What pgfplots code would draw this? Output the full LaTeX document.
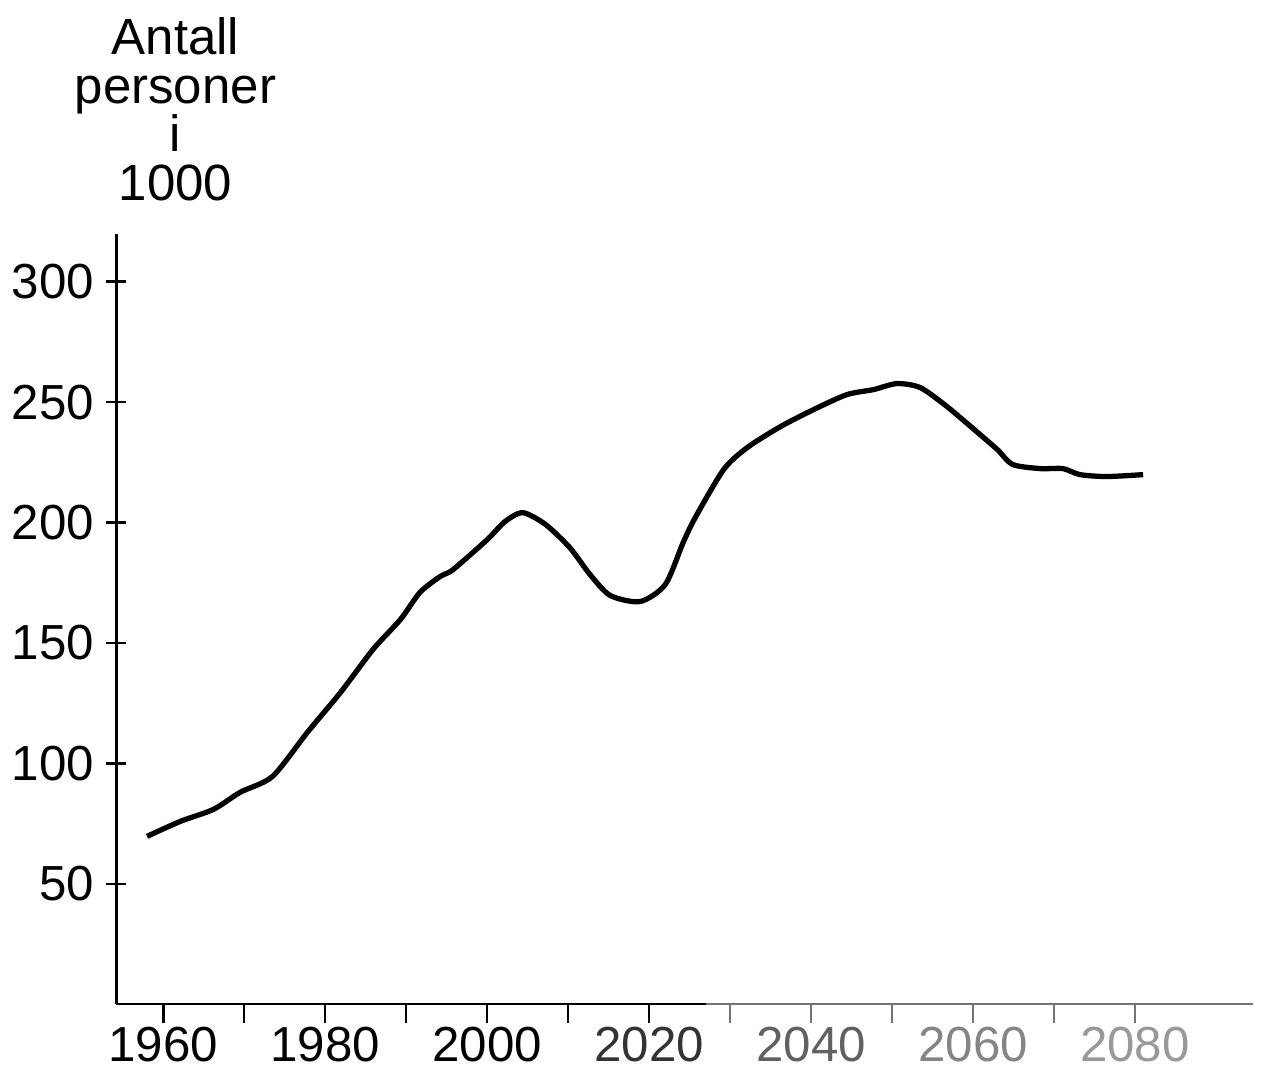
\documentclass[border=0pt]{standalone}
\usepackage{pgfplots}
\pgfplotsset{compat=1.18}
\usepackage{fontspec}
\setmainfont{Liberation Sans}

\begin{document}
\begin{tikzpicture}
\begin{axis}[
    scale only axis,
    width=113.6mm, height=77.0mm,
    xmin=1954.2, xmax=2094.6,
    ymin=0, ymax=320,
    axis x line=bottom, axis y line=left,
    x axis line style={draw=none},
    y axis line style={-, line width=0.7pt},
    clip=false,
    tick align=center,
    major tick length=2mm,
    every tick/.style={black, line width=0.7pt},
    xtick={1960,1970,1980,1990,2000,2010,2020},
    xticklabels={1960,,1980,,2000,,\textcolor{black!80}{2020}},
    xtick style={yshift=-0.9mm},
    extra x ticks={2030,2040,2050,2060,2070,2080},
    extra x tick labels={,\textcolor{black!62}{2040},,\textcolor{black!48}{2060},,\textcolor{black!40}{2080}},
    extra x tick style={tick style={draw=black!55}},
    ytick={50,100,150,200,250,300},
    tick label style={font=\fontsize{14}{16}\selectfont},
    /pgf/number format/assume math mode=true,
    /pgf/number format/1000 sep={},
]
\addplot[black, line width=1.5pt, smooth, tension=0.45] coordinates {
    (1958.0,69.7) (1962.1,75.9) (1966.2,80.9) (1969.5,88.0) (1973.5,94.6)
    (1977.8,112.9) (1981.9,129.5) (1985.9,147.3) (1989.3,159.8) (1991.7,171.0)
    (1994.2,177.6) (1995.8,180.5) (2000.0,192.9) (2002.2,200.4) (2004.4,204.1)
    (2007.2,199.2) (2010.2,189.6) (2012.7,178.4) (2015.2,169.7) (2018.9,167.2)
    (2022.0,174.3) (2024.2,191.7) (2025.7,202.1) (2029.2,222.0) (2032.1,231.1)
    (2036.2,239.8) (2040.3,246.9) (2044.4,253.1) (2047.7,255.2) (2050.6,257.7)
    (2053.5,256.0) (2056.8,248.1) (2060.6,237.3) (2063.0,230.3) (2064.9,224.1)
    (2068.3,222.4) (2071.1,222.4) (2073.2,219.9) (2076.5,219.1) (2081.0,219.9)
};
% x axis: solid black to about 2027, then a faint grey line
\draw[black, line width=0.7pt] (axis cs:1954.2,0) -- (axis cs:2027,0);
\draw[black!55, line width=0.7pt] (axis cs:2027,0) -- (axis cs:2094.6,0);
% axis title, four lines, top left
\node[anchor=north, align=center, inner sep=0pt,
      font=\fontsize{14.5}{13.8}\selectfont] at (axis cs:1961.5,410) {Antall\\personer\\i\\1000};
% page size like the reference
\path (axis cs:1939.9,-27.8) rectangle (axis cs:2096.3,417.0);
\end{axis}
\end{tikzpicture}
\end{document}
